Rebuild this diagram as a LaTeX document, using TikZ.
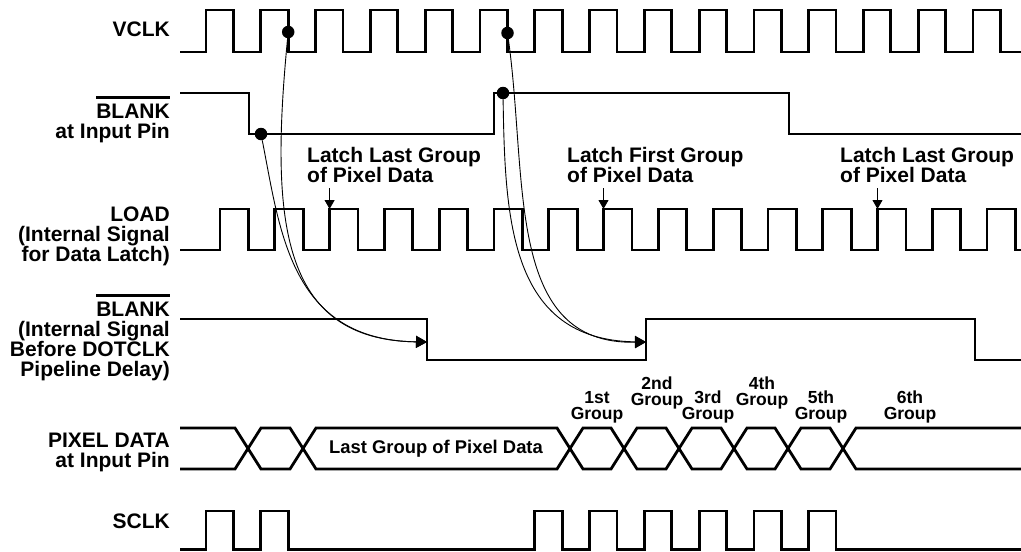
\documentclass[tikz,border=0pt]{standalone}
\usepackage{fontspec}
\setmainfont{Liberation Sans}
\usetikzlibrary{arrows.meta}
\newcommand{\ovl}[1]{\vbox{\hrule height 2.8pt\kern 5pt\hbox{#1}}}
\begin{document}
\begin{tikzpicture}[x=1pt,y=-1pt,
  sig/.style={line width=2.8pt,line join=miter},
  conn/.style={line width=0.9pt,-{Triangle[length=11pt,width=12pt]}},
  latch/.style={line width=0.9pt,-{Triangle[length=9pt,width=10pt]}},
  dot/.style={circle,fill,inner sep=0pt,minimum size=12.5pt},
  lbl/.style={inner sep=0pt,font=\fontsize{21}{20}\selectfont\bfseries},
  grp/.style={inner sep=0pt,align=center,anchor=base,font=\fontsize{17.5}{16}\selectfont\bfseries}]
\useasboundingbox (0,0) rectangle (1021,552);

% ---- left labels (base anchor = baseline of the last line)
\node[lbl,anchor=base east] (lvclk) at (170,36) {VCLK};
\node[lbl,anchor=base east,align=right] (lblank) at (170,138) {\ovl{BLANK}\\at Input Pin};
\node[lbl,anchor=base east,align=right] (lload) at (170,261) {LOAD\\(Internal Signal\\for Data Latch)};
\node[lbl,anchor=base east,align=right] (liblank) at (170,376) {\ovl{BLANK}\\(Internal Signal\\Before DOTCLK\\Pipeline Delay)};
\node[lbl,anchor=base east,align=right] (lpix) at (170,467) {PIXEL DATA\\at Input Pin};
\node[lbl,anchor=base east] (lsclk) at (170,528) {SCLK};

% ---- VCLK
\draw[sig] (180,52) \foreach \k in {0,...,14} { -- ({206+54.79*\k},52) -- ({206+54.79*\k},10) -- ({233.4+54.79*\k},10) -- ({233.4+54.79*\k},52) } -- (1021,52);

% ---- BLANK at input pin
\draw[sig] (180,93) -- (249,93) -- (249,134) -- (494,134) -- (494,93) -- (789,93) -- (789,134) -- (1021,134);

% ---- LOAD
\draw[sig] (180,250) \foreach \k in {0,...,14} { -- ({220+54.79*\k},250) -- ({220+54.79*\k},209) -- ({248.5+54.79*\k},209) -- ({248.5+54.79*\k},250) } -- (1021,250);

% ---- internal BLANK
\draw[sig] (180,319) -- (427,319) -- (427,360) -- (646,360) -- (646,319) -- (975,319) -- (975,360) -- (1021,360);

% ---- PIXEL DATA bus
\def\h{13}
\draw[sig] (180,428) -- ({248-\h},428) -- (248,448.5) -- ({248-\h},469) -- (180,469);
\foreach \a/\b in {248/303,303/570,570/624,624/679,679/734,734/788,788/843}{
  \draw[sig] (\a,448.5) -- ({\a+\h},428) -- ({\b-\h},428) -- (\b,448.5) -- ({\b-\h},469) -- ({\a+\h},469) -- cycle;
}
\draw[sig] (1021,428) -- ({843+\h},428) -- (843,448.5) -- ({843+\h},469) -- (1021,469);
\node[inner sep=0pt,anchor=base,font=\fontsize{18.4}{18}\selectfont\bfseries] (lastgrp) at (436,453) {Last Group of Pixel Data};

% ---- group labels
\node[grp] (g1) at (597,419) {1st\\Group};
\node[grp] (g2) at (657,405) {2nd\\Group};
\node[grp] (g3) at (708,419) {3rd\\Group};
\node[grp] (g4) at (762,405) {4th\\Group};
\node[grp] (g5) at (821,419) {5th\\Group};
\node[grp] (g6) at (910,419) {6th\\Group};

% ---- SCLK
\draw[sig] (180,549.5) \foreach \k in {0,1,6,7,8,9,10,11} { -- ({206+54.79*\k},549.5) -- ({206+54.79*\k},511) -- ({233.4+54.79*\k},511) -- ({233.4+54.79*\k},549.5) } -- (1021,549.5);

% ---- latch labels and arrows
\node[lbl,anchor=base west,align=left] (lat1) at (307,182) {Latch Last Group\\of Pixel Data};
\node[lbl,anchor=base west,align=left] (lat2) at (567,182) {Latch First Group\\of Pixel Data};
\node[lbl,anchor=base west,align=left] (lat3) at (840,182) {Latch Last Group\\of Pixel Data};
\coordinate (la1) at (329.6,188); \coordinate (lt1) at (329.6,209);
\coordinate (la2) at (603.5,188); \coordinate (lt2) at (603.5,209);
\coordinate (la3) at (877.5,188); \coordinate (lt3) at (877.5,209);
\draw[latch] (la1) -- (lt1);
\draw[latch] (la2) -- (lt2);
\draw[latch] (la3) -- (lt3);

% ---- dots and causal curves
\node[dot] (dv1) at (288.2,32) {};
\node[dot] (db1) at (261,134) {};
\node[dot] (dv2) at (507.5,33) {};
\node[dot] (db2) at (503,93) {};
\coordinate (t1) at (427,342);
\coordinate (t2) at (646,342);
\draw[conn] (dv1) .. controls (270,220) and (280,340) .. (t1);
\draw[conn] (db1) .. controls (280,230) and (290,340) .. (t1);
\draw[conn] (dv2) .. controls (528,180) and (505,345) .. (t2);
\draw[conn] (db2) .. controls (505,220) and (510,340) .. (t2);
\end{tikzpicture}
\end{document}
